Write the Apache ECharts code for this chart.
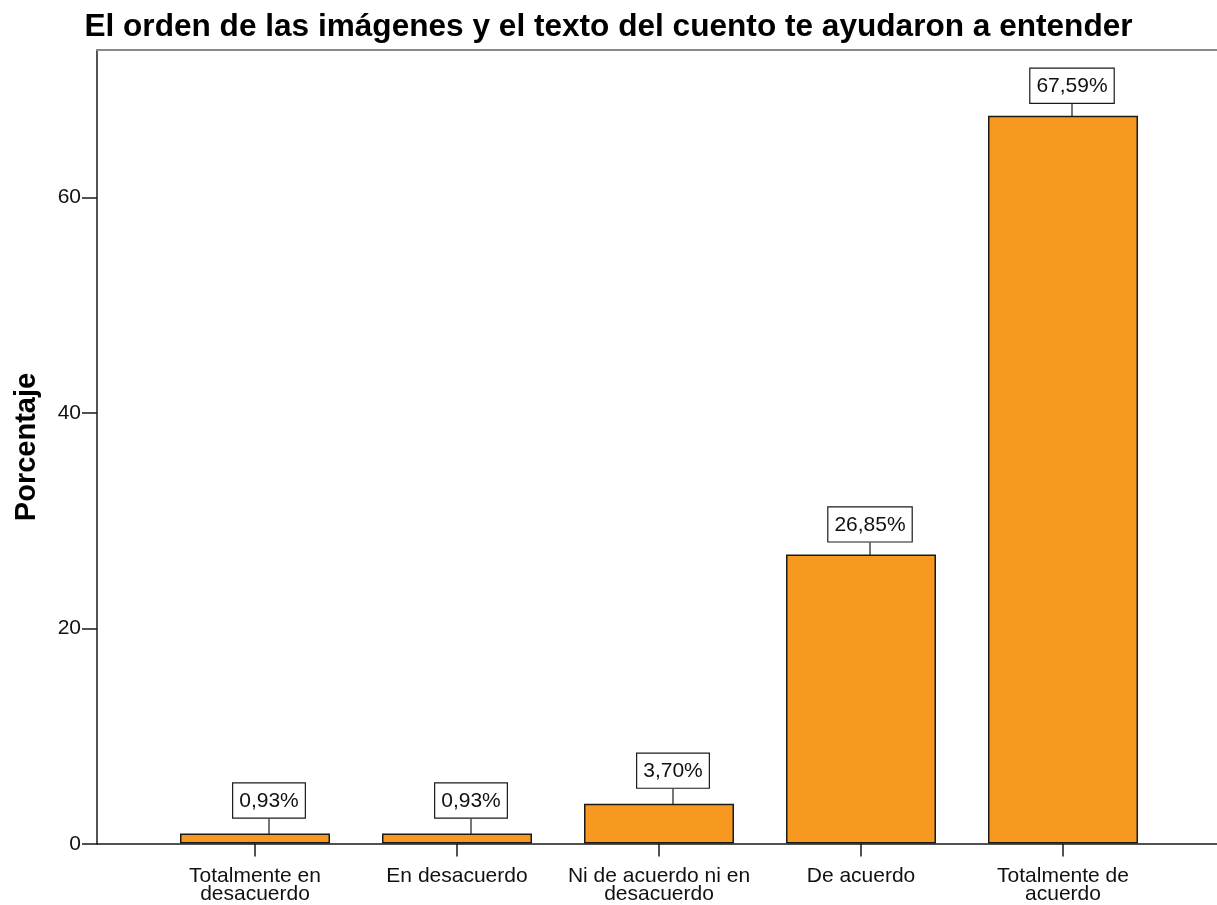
<!DOCTYPE html>
<html>
<head>
<meta charset="utf-8">
<script src="https://cdn.jsdelivr.net/npm/echarts@6/dist/echarts.min.js"></script>
<style>
  html, body { margin: 0; padding: 0; background: #fff; }
  #chart { width: 1217px; height: 905px; }
</style>
</head>
<body>
<div id="chart"></div>
<script>
const categories = [
  'Totalmente en\ndesacuerdo',
  'En desacuerdo',
  'Ni de acuerdo ni en\ndesacuerdo',
  'De acuerdo',
  'Totalmente de\nacuerdo'
]
const percentages = [0.93, 0.93, 3.70, 26.85, 67.59]
const yTicks = [0, 20, 40, 60]
const yMax = 73.7

const font = 'Liberation Sans, Arial, sans-serif'
const chart = echarts.init(document.getElementById('chart'))

chart.setOption({
  backgroundColor: '#fff',
  animation: false,
  title: {
    text: 'El orden de las imágenes y el texto del cuento te ayudaron a entender',
    left: 'center', top: 6,
    textStyle: { fontFamily: font, fontSize: 31.6, fontWeight: 'bold', color: '#000' },
  },
  grid: [
    // frame: axis lines from the y axis to the right edge
    { left: 97, right: 0, top: 50, bottom: 61 },
    // bars
    { left: 154, right: 53, top: 50, bottom: 61 },
  ],
  xAxis: [
    {
      type: 'value', gridIndex: 0, min: 0, max: 1, position: 'bottom',
      axisLine: { onZero: false, lineStyle: { color: '#1a1a1a', width: 1.5 } },
      axisTick: { show: false }, axisLabel: { show: false }, splitLine: { show: false },
    },
    {
      type: 'value', gridIndex: 0, min: 0, max: 1, position: 'top',
      axisLine: { onZero: false, lineStyle: { color: '#8a8a8a', width: 2 } },
      axisTick: { show: false }, axisLabel: { show: false }, splitLine: { show: false },
    },
    {
      type: 'category', gridIndex: 1, data: categories,
      axisLine: { show: false },
      axisTick: { show: true, alignWithLabel: true, length: 13, lineStyle: { color: '#1a1a1a', width: 1.5 } },
      axisLabel: { fontFamily: font, fontSize: 21, lineHeight: 18, color: '#111', margin: 24, interval: 0 },
    },
  ],
  yAxis: [
    {
      type: 'value', gridIndex: 0, min: 0, max: yMax,
      name: 'Porcentaje', nameLocation: 'middle', nameGap: 56, nameRotate: 90,
      nameTextStyle: { fontFamily: font, fontSize: 29, fontWeight: 'bold', color: '#000' },
      axisLine: { show: true, lineStyle: { color: '#1a1a1a', width: 1.5 } },
      axisTick: { show: true, length: 15, customValues: yTicks, lineStyle: { color: '#1a1a1a', width: 1.5 } },
      axisLabel: { fontFamily: font, fontSize: 21, color: '#111', margin: 16, customValues: yTicks },
      splitLine: { show: false },
    },
    {
      type: 'value', gridIndex: 1, min: 0, max: yMax, show: false,
    },
  ],
  series: [
    {
      type: 'bar', xAxisIndex: 2, yAxisIndex: 1, data: percentages, barWidth: 150,
      itemStyle: { color: '#F7991F', borderColor: '#1a1a1a', borderWidth: 1.5 },
      label: {
        show: true, position: 'top', distance: 0,
        formatter: p => p.value.toFixed(2).replace('.', ',') + '%',
        fontFamily: font, fontSize: 21, color: '#111',
        backgroundColor: '#fff', borderColor: '#1a1a1a', borderWidth: 1.2,
        padding: [7, 6, 6, 6],
      },
      // small bars get their boxes nudged further out, as in the original
      labelLayout: p => p.dataIndex < 3 ? { dy: -16, dx: 14 } : { dy: -13, dx: 9 },
      labelLine: { show: true, lineStyle: { color: '#1a1a1a', width: 1.2 } },
    },
  ],
})
</script>
</body>
</html>
